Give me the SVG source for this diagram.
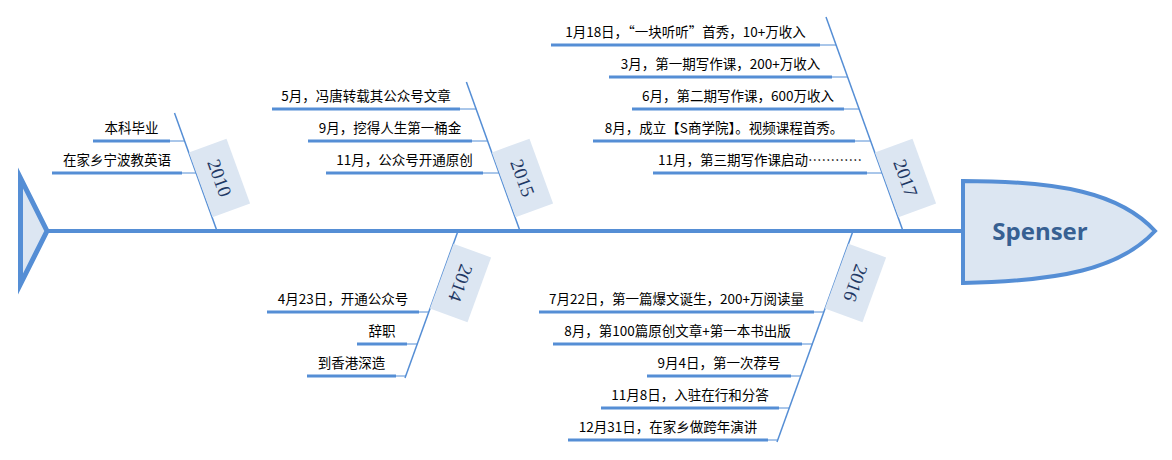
<svg xmlns="http://www.w3.org/2000/svg" width="1172" height="460" viewBox="0 0 1172 460">
<style>
.spine{stroke:#558ED5;stroke-width:4;fill:none}
.br{stroke:#558ED5;stroke-width:1.5;fill:none}
.thin{stroke:#558ED5;stroke-width:1;fill:none}
.thick{stroke:#558ED5;stroke-width:3;fill:none}
.box{fill:#DCE6F2}
.yr{font-family:"Liberation Serif",serif;font-size:19px;fill:#1F3864;text-anchor:middle}
.lb{font-family:"Noto Sans CJK SC","Noto Sans",sans-serif;font-size:13.5px;fill:#000;text-anchor:middle}
.hd{font-family:"Open Sans","Liberation Sans",sans-serif;font-size:24px;font-weight:bold;fill:#376092;text-anchor:middle}
</style>
<rect width="1172" height="460" fill="#fff"/>
<g id="connectors">
<line class="spine" x1="48" y1="231" x2="964" y2="231"/>
<line class="br" x1="174.5" y1="113" x2="217" y2="231"/>
<line class="br" x1="466.4" y1="82" x2="520" y2="231"/>
<line class="br" x1="826" y1="17" x2="903" y2="231"/>
<line class="br" x1="458" y1="231" x2="405" y2="378"/>
<line class="br" x1="853" y1="231" x2="777" y2="442"/>
</g>
<g id="tail"><polygon points="20.5,178 47,231 20.5,284" fill="#DCE6F2" stroke="#558ED5" stroke-width="5" stroke-miterlimit="10"/></g>
<g id="head">
<path d="M963,181 C1060,181 1120,193 1155,231 C1120,269 1060,281 963,283 Z" fill="#DCE6F2" stroke="#558ED5" stroke-width="4"/>
<text class="hd" x="1040" y="240">Spenser</text>
</g>
<g id="y2010">
<g transform="translate(219.5,178) rotate(70)"><rect class="box" x="-34.5" y="-20" width="69" height="40"/><text class="yr" y="6.5">2010</text></g>
<line class="thick" x1="93" y1="141" x2="170" y2="141"/><line class="thin" x1="170" y1="141" x2="185" y2="141"/>
<text class="lb" x="131.5" y="133">本科毕业</text>
<line class="thick" x1="52" y1="173" x2="182" y2="173"/><line class="thin" x1="182" y1="173" x2="196" y2="173"/>
<text class="lb" x="117" y="165">在家乡宁波教英语</text>
</g>
<g id="y2015">
<g transform="translate(522.5,178) rotate(70)"><rect class="box" x="-34.5" y="-20" width="69" height="40"/><text class="yr" y="6.5">2015</text></g>
<line class="thick" x1="272" y1="109" x2="460" y2="109"/><line class="thin" x1="460" y1="109" x2="476" y2="109"/>
<text class="lb" x="366" y="101">5月，冯唐转载其公众号文章</text>
<line class="thick" x1="308" y1="141" x2="472" y2="141"/><line class="thin" x1="472" y1="141" x2="487.6" y2="141"/>
<text class="lb" x="390" y="133">9月，挖得人生第一桶金</text>
<line class="thick" x1="326" y1="173" x2="483" y2="173"/><line class="thin" x1="483" y1="173" x2="499" y2="173"/>
<text class="lb" x="404.5" y="165">11月，公众号开通原创</text>
</g>
<g id="y2017">
<g transform="translate(905.5,178) rotate(70)"><rect class="box" x="-34.5" y="-20" width="69" height="40"/><text class="yr" y="6.5">2017</text></g>
<line class="thick" x1="551" y1="45" x2="820" y2="45"/><line class="thin" x1="820" y1="45" x2="836" y2="45"/>
<text class="lb" x="685.5" y="37">1月18日，“一块听听”首秀，10+万收入</text>
<line class="thick" x1="609" y1="77" x2="832" y2="77"/><line class="thin" x1="832" y1="77" x2="847.6" y2="77"/>
<text class="lb" x="720.5" y="69">3月，第一期写作课，200+万收入</text>
<line class="thick" x1="632" y1="109" x2="844" y2="109"/><line class="thin" x1="844" y1="109" x2="859" y2="109"/>
<text class="lb" x="738" y="101">6月，第二期写作课，600万收入</text>
<line class="thick" x1="593" y1="141" x2="855" y2="141"/><line class="thin" x1="855" y1="141" x2="870.6" y2="141"/>
<text class="lb" x="724" y="133">8月，成立【S商学院】。视频课程首秀。</text>
<line class="thick" x1="653" y1="173" x2="867" y2="173"/><line class="thin" x1="867" y1="173" x2="882" y2="173"/>
<text class="lb" x="760" y="165">11月，第三期写作课启动…………</text>
</g>
<g id="y2014">
<g transform="translate(460.5,283) rotate(110)"><rect class="box" x="-34.5" y="-20" width="69" height="40"/><text class="yr" y="6.5">2014</text></g>
<line class="thick" x1="267" y1="312" x2="419" y2="312"/><line class="thin" x1="419" y1="312" x2="429" y2="312"/>
<text class="lb" x="343" y="304">4月23日，开通公众号</text>
<line class="thick" x1="357" y1="344" x2="407" y2="344"/><line class="thin" x1="407" y1="344" x2="417.3" y2="344"/>
<text class="lb" x="382" y="336">辞职</text>
<line class="thick" x1="307" y1="376" x2="396" y2="376"/><line class="thin" x1="396" y1="376" x2="405.8" y2="376"/>
<text class="lb" x="351.5" y="368">到香港深造</text>
</g>
<g id="y2016">
<g transform="translate(855.5,283) rotate(110)"><rect class="box" x="-34.5" y="-20" width="69" height="40"/><text class="yr" y="6.5">2016</text></g>
<line class="thick" x1="539" y1="312" x2="814" y2="312"/><line class="thin" x1="814" y1="312" x2="823.8" y2="312"/>
<text class="lb" x="676.5" y="304">7月22日，第一篇爆文诞生，200+万阅读量</text>
<line class="thick" x1="553" y1="344" x2="802" y2="344"/><line class="thin" x1="802" y1="344" x2="812.3" y2="344"/>
<text class="lb" x="677.5" y="336">8月，第100篇原创文章+第一本书出版</text>
<line class="thick" x1="647" y1="376" x2="791" y2="376"/><line class="thin" x1="791" y1="376" x2="800.8" y2="376"/>
<text class="lb" x="719" y="368">9月4日，第一次荐号</text>
<line class="thick" x1="601" y1="408" x2="779" y2="408"/><line class="thin" x1="779" y1="408" x2="789.3" y2="408"/>
<text class="lb" x="690" y="400">11月8日，入驻在行和分答</text>
<line class="thick" x1="568" y1="440" x2="768" y2="440"/><line class="thin" x1="768" y1="440" x2="777.8" y2="440"/>
<text class="lb" x="668" y="432">12月31日，在家乡做跨年演讲</text>
</g>
</svg>
